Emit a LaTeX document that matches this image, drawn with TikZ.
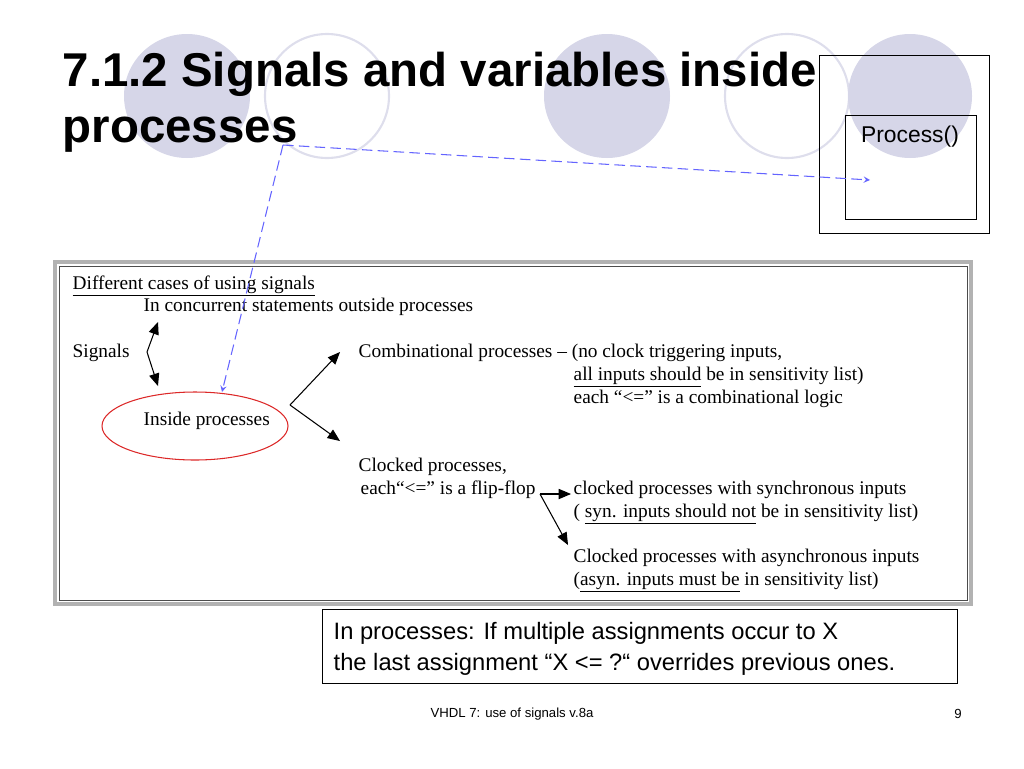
\documentclass[tikz,border=0pt]{standalone}
\usepackage{fontspec}
\setmainfont{Liberation Serif}
\newfontfamily\arial{Liberation Sans}
\usetikzlibrary{arrows,shapes.geometric}
\definecolor{circ_fill}{RGB}{214,214,232}
\definecolor{circ_edge}{RGB}{222,222,236}
\definecolor{link_blue}{RGB}{100,100,255}
\definecolor{ell_red}{RGB}{220,40,40}
\begin{document}
\begin{tikzpicture}[x=0.02cm,y=-0.02cm,>=triangle 45,thick]
    \tikzstyle{txt}=[anchor=base west,inner sep=0pt,font=\fontsize{11}{13}\selectfont]
    \tikzstyle{ball}=[fill=circ_fill,draw=none]
    \tikzstyle{ring}=[draw=circ_edge,line width=1.2pt]
    \tikzstyle{link}=[->,link_blue,dashed,semithick,dash pattern=on 6pt off 3pt,>=stealth]
    \tikzstyle{ptr}=[->,black,semithick]
    \tikzstyle{ttl}=[anchor=base west,inner sep=0pt,font=\arial\bfseries\fontsize{27}{32}\selectfont]
    \tikzstyle{notetxt}=[anchor=base west,inner sep=0pt,font=\arial\fontsize{13.5}{16}\selectfont]
    \useasboundingbox (0,0) rectangle (1024,768);

    % background circles
    \fill[ball] (187,96) ellipse (63 and 62);
    \draw[ring] (327,96) ellipse (62 and 62);
    \fill[ball] (607,96) ellipse (63 and 62);
    \draw[ring] (787,96) ellipse (62 and 62);
    \fill[ball] (910,96) ellipse (62 and 62);

    % title
    \node[ttl] (title1) at (62,86) {7.1.2 Signals and variables inside};
    \node[ttl] (title2) at (62,142) {processes};

    % process boxes
    \draw[thin] (819,55) rectangle (989,233);
    \node[draw,thin,minimum width=131*0.02cm,minimum height=104*0.02cm,anchor=north west,inner sep=0pt] (proc) at (845,115) {};
    \node[font=\arial\fontsize{13}{15}\selectfont] (proclbl) at (910,137) {Process()};

    % main box
    \draw[gray!60,line width=2.5pt] (55,262) rectangle (971,604);
    \draw[black!70,thin] (59,266) rectangle (967,600);

    \node[txt] (cases) at (72,289) {\underline{Different cases of using signals}};
    \node[txt] (conc) at (143,311) {In concurrent statements outside processes};
    \node[txt] (sig) at (72,357) {Signals};
    \node[draw=ell_red,semithick,ellipse,minimum width=186*0.02cm,minimum height=68*0.02cm] (inside) at (195,426) {};
    \node[txt] (insidelbl) at (143,425) {Inside processes};
    \node[txt] (comb) at (358,357) {Combinational processes -- (no clock triggering inputs,};
    \node[txt] (comb2) at (573,380) {\underline{all inputs should} be in sensitivity list)};
    \node[txt] (comb3) at (573,403) {each “<=” is a combinational logic};
    \node[txt] (clk) at (358,471) {Clocked processes,};
    \node[txt] (clk2) at (360,494) {each“<=” is a flip-flop};
    \node[txt] (sync) at (573,494) {clocked processes with synchronous inputs};
    \node[txt] (sync2) at (573,517) {( \underline{syn. inputs should not} be in sensitivity list)};
    \node[txt] (async) at (573,562) {Clocked processes with asynchronous inputs};
    \node[txt] (async2) at (573,585) {(\underline{asyn. inputs must be} in sensitivity list)};

    \coordinate (sigv) at (147,352);
    \coordinate (insv) at (290,405);
    \coordinate (ffv) at (540,494);
    \draw[ptr] (sigv) -- (158,322);
    \draw[ptr] (sigv) -- (158,386);
    \draw[ptr] (insv) -- (340,352);
    \draw[ptr] (insv) -- (340,441);
    \draw[ptr] (ffv) -- (571,494);
    \draw[ptr] (ffv) -- (568,545);

    % dashed links
    \coordinate (src) at (283,145);
    \draw[link] (src) -- (870,180);
    \draw[link] (src) -- (222,392);

    % note box
    \node[draw,thin,anchor=north west,minimum width=635*0.02cm,minimum height=74*0.02cm] (note) at (322,609) {};
    \node[notetxt] (note1) at (333,639) {In processes: If multiple assignments occur to X};
    \node[notetxt] (note2) at (333,670) {the last assignment “X <= ?“ overrides previous ones.};

    % footer
    \node[font=\arial\fontsize{7.5}{9}\selectfont] (foot) at (512,714) {VHDL 7: use of signals v.8a};
    \node[font=\arial\fontsize{7.5}{9}\selectfont] (page) at (958,714) {9};
\end{tikzpicture}
\end{document}
